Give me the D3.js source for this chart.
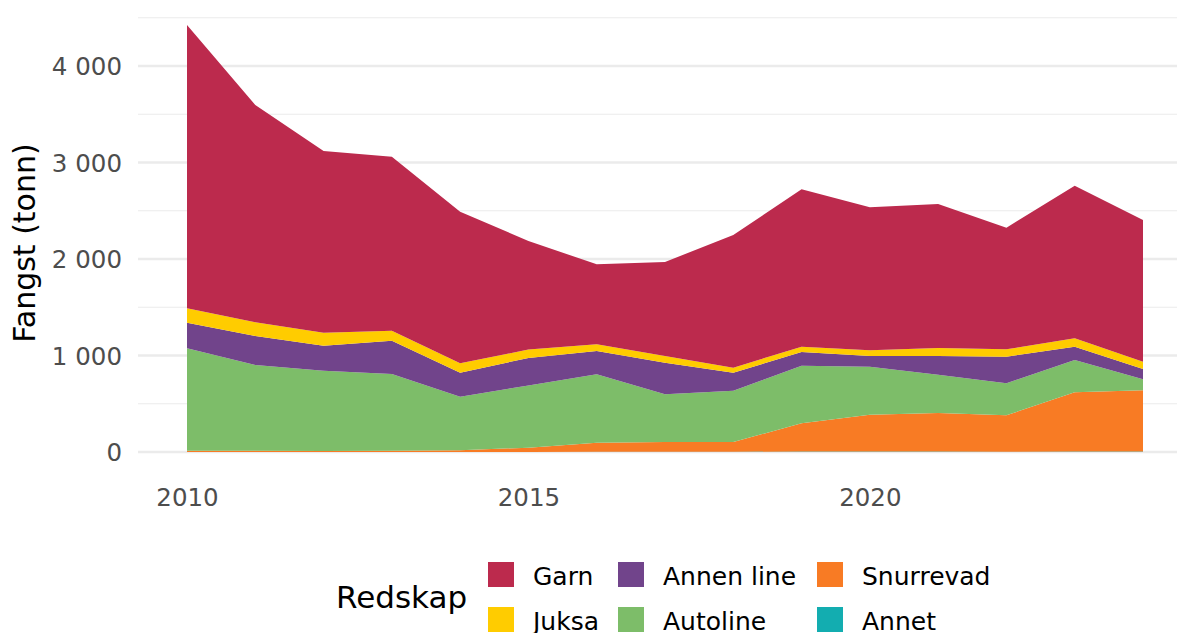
<!DOCTYPE html>
<html>
<head>
<meta charset="utf-8">
<script src="https://cdn.jsdelivr.net/npm/d3@7"></script>
<style>
  html, body { margin: 0; padding: 0; background: #ffffff; }
  svg { display: block; font-family: "DejaVu Sans", sans-serif; }
</style>
</head>
<body>
<svg id="chart" width="1177" height="633"></svg>
<script>
// ---- Data ----
const years = [2010, 2011, 2012, 2013, 2014, 2015, 2016, 2017, 2018, 2019, 2020, 2021, 2022, 2023, 2024];
const garn      = [2936, 2252, 1883, 1803, 1571, 1125, 829, 974, 1375, 1631, 1482, 1492, 1261, 1582, 1468];
const juksa     = [149, 142, 134, 103, 97, 87, 69, 69, 52, 55, 59, 83, 76, 87, 76];
const annenLine = [265, 300, 259, 346, 249, 285, 242, 328, 187, 142, 111, 194, 276, 138, 107];
const autoline  = [1063, 888, 833, 794, 555, 645, 708, 494, 531, 597, 497, 397, 332, 335, 114];
const snurrevad = [11, 13, 9, 13, 17, 44, 95, 102, 101, 292, 383, 400, 377, 614, 634];
const annet     = [1, 1, 1, 1, 1, 1, 2, 2, 3, 5, 4, 4, 3, 4, 5];

const seriesNames = ["Garn", "Juksa", "Annen line", "Autoline", "Snurrevad", "Annet"];
const seriesValues = [garn, juksa, annenLine, autoline, snurrevad, annet];
const seriesColors = ["#BC2A4D", "#FFCC00", "#71448B", "#7DBD69", "#F87B24", "#13ADB0"];

const yTicks = [0, 1000, 2000, 3000, 4000];
const yMinor = [500, 1500, 2500, 3500, 4500];
const xTicks = [2010, 2015, 2020];
const yTitle = "Fangst (tonn)";
const legendTitle = "Redskap";

// ---- Build table ----
const table = years.map((yr, i) => {
  const row = { year: yr };
  seriesNames.forEach((n, k) => { row[n] = seriesValues[k][i]; });
  return row;
});

const svg = d3.select("#chart");

const x = d3.scaleLinear().domain([2010, 2024]).range([187, 1143]);
const y = d3.scaleLinear().domain([0, 4000]).range([452, 66]);

const gridLeft = 138, gridRight = 1177;

// gridlines
const grid = svg.append("g");
grid.selectAll("line.minor").data(yMinor).enter().append("line")
  .attr("x1", gridLeft).attr("x2", gridRight)
  .attr("y1", d => y(d)).attr("y2", d => y(d))
  .attr("stroke", "#EBEBEB").attr("stroke-width", 1.2);
grid.selectAll("line.major").data(yTicks).enter().append("line")
  .attr("x1", gridLeft).attr("x2", gridRight)
  .attr("y1", d => y(d)).attr("y2", d => y(d))
  .attr("stroke", "#EBEBEB").attr("stroke-width", 2.3);

// stacked areas; bottom-to-top order: Annet, Snurrevad, Autoline, Annen line, Juksa, Garn
const stackKeys = seriesNames.slice().reverse();
const stack = d3.stack().keys(stackKeys);
const layers = stack(table);
const colorOf = d3.scaleOrdinal().domain(seriesNames).range(seriesColors);

const area = d3.area()
  .x(d => x(d.data.year))
  .y0(d => y(d[0]))
  .y1(d => y(d[1]));

svg.append("g").selectAll("path").data(layers).enter().append("path")
  .attr("d", area)
  .attr("fill", d => colorOf(d.key))
  .attr("stroke", "none");

// y axis labels
const yAxis = d3.axisLeft(y).tickValues(yTicks)
  .tickSize(0).tickPadding(0)
  .tickFormat(d => d3.format(",")(d).replace(/,/g, " "));
const gy = svg.append("g").attr("transform", "translate(122,0)").call(yAxis);
gy.select(".domain").remove();
gy.selectAll("text")
  .attr("fill", "#4D4D4D")
  .attr("font-size", "24.5px")
  .attr("font-family", "DejaVu Sans, sans-serif")
  .attr("dy", "0.36em");

// x axis labels
const xAxis = d3.axisBottom(x).tickValues(xTicks).tickSize(0).tickPadding(0)
  .tickFormat(d3.format("d"));
const gx = svg.append("g").call(xAxis);
gx.select(".domain").remove();
gx.selectAll("text")
  .attr("fill", "#4D4D4D")
  .attr("font-size", "24.5px")
  .attr("font-family", "DejaVu Sans, sans-serif")
  .attr("y", 506).attr("dy", 0);

// y title
svg.append("text")
  .attr("transform", "translate(35,243) rotate(-90)")
  .attr("text-anchor", "middle")
  .attr("font-size", "30px")
  .attr("fill", "#000000")
  .text(yTitle);

// legend
svg.append("text")
  .attr("x", 336).attr("y", 608)
  .attr("font-size", "31px")
  .attr("fill", "#000000")
  .text(legendTitle);

const legendCols = [488, 618, 817];
const legendRows = [562, 607];
// filled by column: Garn, Juksa | Annen line, Autoline | Snurrevad, Annet
const legendItems = seriesNames.map((n, i) => ({
  name: n,
  col: Math.floor(i / 2),
  row: i % 2
}));
const lg = svg.append("g");
const items = lg.selectAll("g").data(legendItems).enter().append("g")
  .attr("transform", d => `translate(${legendCols[d.col]},${legendRows[d.row]})`);
items.append("rect")
  .attr("width", 26).attr("height", 25)
  .attr("fill", d => colorOf(d.name));
items.append("text")
  .attr("x", 45).attr("y", 23)
  .attr("font-size", "25px")
  .attr("fill", "#000000")
  .text(d => d.name);
</script>
</body>
</html>
